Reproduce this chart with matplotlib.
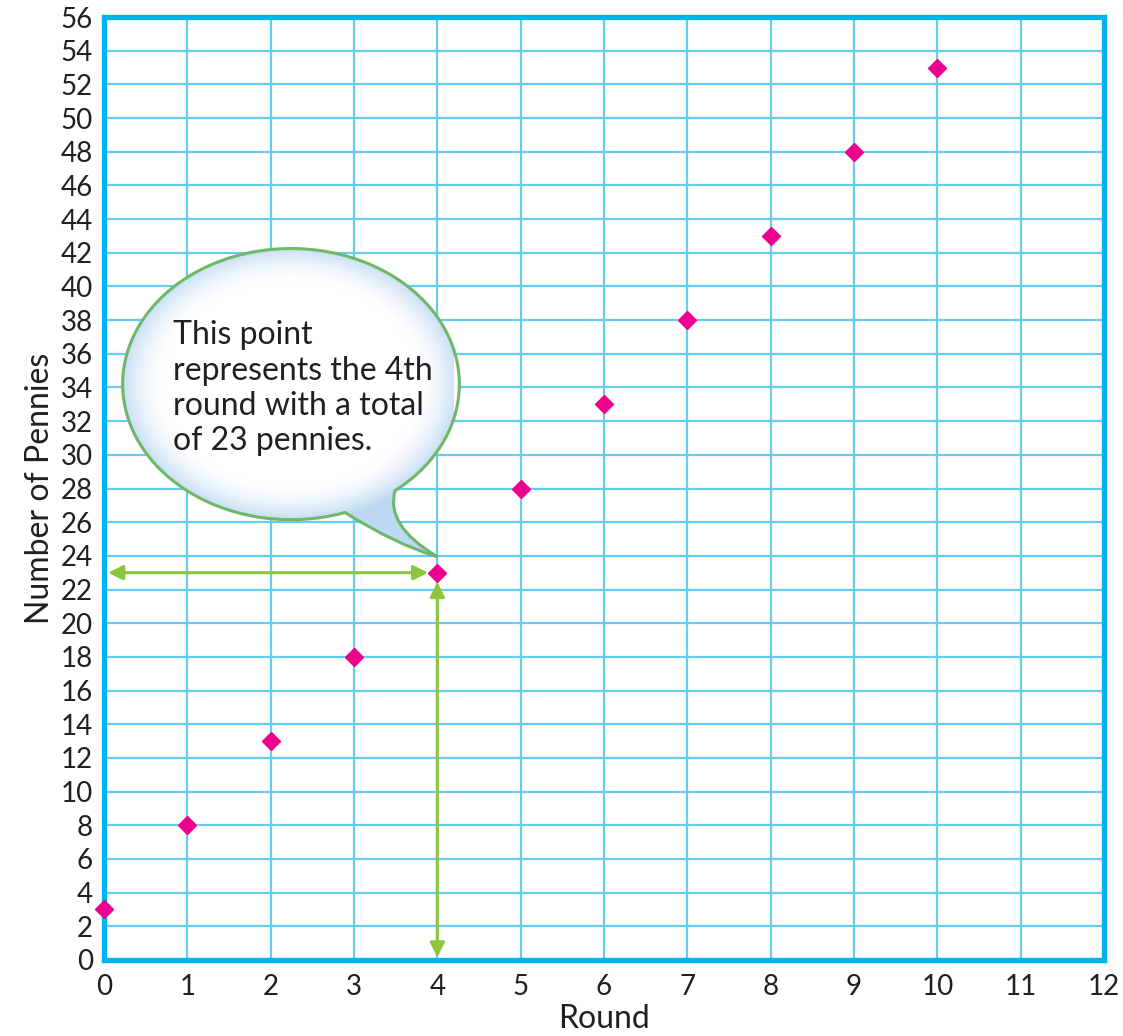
import numpy as np
import matplotlib
matplotlib.use("Agg")
import matplotlib.pyplot as plt
from matplotlib.path import Path
from matplotlib.patches import PathPatch

rounds = [0, 1, 2, 3, 4, 5, 6, 7, 8, 9, 10]
pennies = [3, 8, 13, 18, 23, 28, 33, 38, 43, 48, 53]
x_ticks = list(range(0, 13))
y_ticks = list(range(0, 57, 2))
callout_text = "This point\nrepresents the 4th\nround with a total\nof 23 pennies."
highlight_round = 4
highlight_pennies = 23

plt.rcParams['font.family'] = ['Lato', 'DejaVu Sans']

W, H = 1123, 1036
fig = plt.figure(figsize=(W / 100, H / 100), dpi=100)
ax = fig.add_axes([104 / W, (H - 960) / H, 1000 / W, 943 / H])
ax.set_xlim(0, 12)
ax.set_ylim(0, 56)

grid_c = '#66cdf2'
frame_c = '#00b2ee'
ax.set_xticks(x_ticks)
ax.set_yticks(y_ticks)
ax.set_xticklabels([str(v) for v in x_ticks], fontsize=20, color='#231f20')
ax.set_yticklabels([str(v) for v in y_ticks], fontsize=20, color='#231f20')
ax.tick_params(axis='y', length=0, pad=8)
ax.tick_params(axis='x', length=0, pad=10)
ax.grid(True, color=grid_c, lw=1.6, zorder=0)
ax.set_axisbelow(True)
for s in ax.spines.values():
    s.set_color(frame_c)
    s.set_linewidth(3.8)

ax.set_xlabel("Round", fontsize=23, color='#231f20', labelpad=3)
ax.set_ylabel("Number of Pennies", fontsize=23, color='#231f20', labelpad=4)

# speech bubble
cx, cy, a, b = 2.244, 34.2, 2.02, 8.05
thB = np.deg2rad(-51.8)
thA = np.deg2rad(288.7)
th = np.linspace(thB, thA, 300)
pts = list(zip(cx + a * np.cos(th), cy + b * np.sin(th)))
tip = (4.0, 23.95)
B = pts[0]
c1 = (3.49, 24.7)
c2 = (3.37, 25.8)
verts = [pts[0]] + pts[1:] + [c1, tip, c2, B, B]
codes = [Path.MOVETO] + [Path.LINETO] * (len(pts) - 1) + [Path.CURVE3, Path.CURVE3, Path.CURVE3, Path.CURVE3, Path.CLOSEPOLY]
bubble = PathPatch(Path(verts, codes), facecolor='none', edgecolor='#6fb86a', lw=2.2, zorder=4)
ax.add_patch(bubble)
fill = PathPatch(Path(verts, codes), facecolor='white', edgecolor='none', zorder=3)
ax.add_patch(fill)

# radial gradient inside bubble
gx = np.linspace(0.1, 4.2, 300)
gy = np.linspace(23.5, 43, 300)
GX, GY = np.meshgrid(gx, gy)
r = np.sqrt(((GX - cx) / a) ** 2 + ((GY - cy) / b) ** 2)
t = np.clip((r - 0.75) / 0.28, 0, 1) ** 1.7
c_in = np.array([1.0, 1.0, 1.0])
c_out = np.array([0.74, 0.85, 0.95])
img = c_in[None, None, :] * (1 - t[..., None]) + c_out[None, None, :] * t[..., None]
im = ax.imshow(img, extent=(gx[0], gx[-1], gy[0], gy[-1]), origin='lower', aspect='auto', zorder=3.5, interpolation='bilinear')
im.set_clip_path(fill)

ax.text(0.83, 33.95, callout_text, fontsize=23, color='#231f20', ha='left', va='center', linespacing=1.22, zorder=5)

# arrows
arrow_c = '#8cc63f'
ax.annotate('', xy=(0.05, highlight_pennies), xytext=(highlight_round - 0.11, highlight_pennies),
            arrowprops=dict(arrowstyle='<|-|>', color=arrow_c, lw=2.2, mutation_scale=22, shrinkA=0, shrinkB=0), zorder=5)
ax.annotate('', xy=(highlight_round, 0.15), xytext=(highlight_round, highlight_pennies - 0.55),
            arrowprops=dict(arrowstyle='<|-|>', color=arrow_c, lw=2.2, mutation_scale=22, shrinkA=0, shrinkB=0), zorder=5)

ax.plot(rounds, pennies, linestyle='none', marker='D', markersize=9.5, color='#ec008c', clip_on=False, zorder=6)

fig.savefig('out.png', dpi=100)
